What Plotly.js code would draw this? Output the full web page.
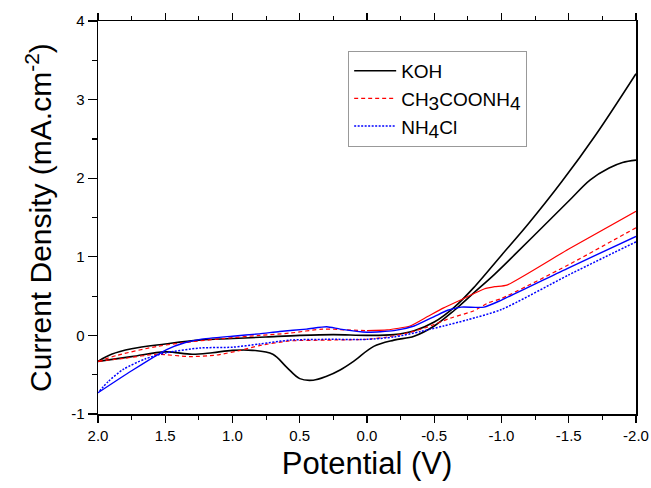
<!DOCTYPE html>
<html>
<head>
<meta charset="utf-8">
<script src="https://cdn.plot.ly/plotly-3.0.1.min.js"></script>
<style>html,body{margin:0;padding:0;background:#fff;}#chart{width:651px;height:488px;}</style>
</head>
<body>
<div id="chart"></div>
<script>
// Series names (subscripts kept near full size, as in the reference)
const seriesNames = [
  'KOH',
  'CH<sub><span style="font-size:19px">3</span></sub>COONH<sub><span style="font-size:19px">4</span></sub>',
  'NH<sub><span style="font-size:19px">4</span></sub>Cl'
];

// KOH: cathodic sweep (2.0 -> -2.0) and return sweep (-2.0 -> 2.0)
const kohFwdX = [2.0, 1.9, 1.75, 1.5, 1.25, 1.0, 0.75, 0.5, 0.25, 0.0, -0.2, -0.35, -0.5, -0.65, -0.8, -1.0, -1.2, -1.45, -1.7, -2.0];
const kohFwdY = [-0.33, -0.24, -0.17, -0.11, -0.06, -0.04, -0.02, 0.0, 0.01, 0.0, 0.01, 0.06, 0.17, 0.36, 0.62, 1.02, 1.42, 1.96, 2.55, 3.33];
const kohRevX = [-2.0, -1.9, -1.8, -1.66, -1.5, -1.3, -1.1, -0.95, -0.8, -0.65, -0.5, -0.35, -0.2, -0.05, 0.1, 0.2, 0.3, 0.4, 0.5, 0.6, 0.7, 0.85, 1.0, 1.15, 1.3, 1.5, 1.75, 2.0];
const kohRevY = [2.23, 2.2, 2.13, 1.98, 1.71, 1.37, 1.03, 0.78, 0.55, 0.32, 0.12, -0.01, -0.06, -0.14, -0.33, -0.44, -0.52, -0.57, -0.55, -0.40, -0.24, -0.19, -0.19, -0.22, -0.24, -0.21, -0.27, -0.33];

// CH3COONH4
const acFwdX = [2.0, 1.85, 1.56, 1.3, 1.07, 0.8, 0.57, 0.33, 0.15, 0.0, -0.15, -0.32, -0.45, -0.57, -0.72, -0.87, -0.95, -1.04, -1.5, -2.0];
const acFwdY = [-0.33, -0.25, -0.14, -0.08, -0.04, 0.0, 0.03, 0.08, 0.07, 0.06, 0.07, 0.12, 0.24, 0.35, 0.47, 0.59, 0.62, 0.64, 1.1, 1.58];
const acRevX = [-2.0, -1.5, -1.0, -0.91, -0.79, -0.62, -0.44, -0.3, -0.15, 0.0, 0.3, 0.57, 0.8, 0.94, 1.12, 1.32, 1.56, 1.8, 2.0];
const acRevY = [1.37, 0.9, 0.47, 0.42, 0.31, 0.22, 0.1, 0.03, -0.02, -0.05, -0.06, -0.07, -0.13, -0.19, -0.25, -0.27, -0.24, -0.29, -0.33];

// NH4Cl
const clFwdX = [2.0, 1.75, 1.49, 1.35, 1.24, 1.0, 0.8, 0.65, 0.45, 0.3, 0.2, 0.0, -0.2, -0.35, -0.5, -0.6, -0.7, -0.87, -1.0, -1.5, -2.0];
const clFwdY = [-0.73, -0.45, -0.18, -0.09, -0.05, -0.01, 0.02, 0.05, 0.08, 0.11, 0.08, 0.04, 0.06, 0.12, 0.24, 0.32, 0.36, 0.36, 0.45, 0.86, 1.26];
const clRevX = [-2.0, -1.5, -1.0, -0.75, -0.57, -0.4, -0.2, 0.0, 0.3, 0.57, 0.8, 1.0, 1.24, 1.49, 1.65, 1.81, 1.92, 2.0];
const clRevY = [1.19, 0.77, 0.33, 0.2, 0.12, 0.05, -0.02, -0.05, -0.05, -0.06, -0.11, -0.15, -0.16, -0.22, -0.3, -0.43, -0.58, -0.73];

// Axis ticks
const xTickVals = [2.0, 1.5, 1.0, 0.5, 0.0, -0.5, -1.0, -1.5, -2.0];
const xTickText = ['2.0', '1.5', '1.0', '0.5', '0.0', '-0.5', '-1.0', '-1.5', '-2.0'];
const yTickVals = [-1, 0, 1, 2, 3, 4];
const yTickText = ['-1', '0', '1', '2', '3', '4'];

const FONT = 'Arial, "Liberation Sans", sans-serif';
const BLACK = '#000000', RED = '#ff0000', BLUE = '#0000ff';

// split CH3COONH4 forward sweep: dashed on the anodic side, dense (solid-looking) on the cathodic side
const splitIdx = acFwdX.indexOf(0.0);

const traces = [
  {x: kohFwdX, y: kohFwdY, name: seriesNames[0], legendgroup: 'koh', mode: 'lines',
   line: {color: BLACK, width: 1.6, shape: 'spline', smoothing: 1}},
  {x: kohRevX, y: kohRevY, name: seriesNames[0], legendgroup: 'koh', showlegend: false, mode: 'lines',
   line: {color: BLACK, width: 1.6, shape: 'spline', smoothing: 1}},
  {x: acRevX, y: acRevY, name: seriesNames[1], legendgroup: 'ac', mode: 'lines',
   line: {color: RED, width: 1.2, dash: '4px,3px', shape: 'spline', smoothing: 0.6}},
  {x: acFwdX.slice(0, splitIdx + 1), y: acFwdY.slice(0, splitIdx + 1), name: seriesNames[1], legendgroup: 'ac', showlegend: false, mode: 'lines',
   line: {color: RED, width: 1.2, dash: '4px,3px', shape: 'spline', smoothing: 0.8}},
  {x: acFwdX.slice(splitIdx), y: acFwdY.slice(splitIdx), name: seriesNames[1], legendgroup: 'ac', showlegend: false, mode: 'lines',
   line: {color: RED, width: 1.2, shape: 'spline', smoothing: 0.5}},
  {x: clRevX, y: clRevY, name: seriesNames[2], legendgroup: 'cl', mode: 'lines',
   line: {color: BLUE, width: 1.5, dash: '2px,1.5px', shape: 'spline', smoothing: 0.7}},
  {x: clFwdX, y: clFwdY, name: seriesNames[2], legendgroup: 'cl', showlegend: false, mode: 'lines',
   line: {color: BLUE, width: 1.4, shape: 'spline', smoothing: 0.6}}
];

const layout = {
  width: 651, height: 488,
  margin: {l: 98, r: 15, t: 21, b: 74},
  paper_bgcolor: '#ffffff', plot_bgcolor: '#ffffff',
  font: {family: FONT, color: '#000', size: 15},
  showlegend: true,
  legend: {
    x: 0.465, y: 0.924, xanchor: 'left', yanchor: 'top',
    bordercolor: '#999999', borderwidth: 1, bgcolor: '#ffffff',
    font: {family: FONT, size: 19, color: '#000'},
    itemwidth: 42, tracegroupgap: 0
  },
  xaxis: {
    range: [2.0, -2.0],
    tickmode: 'array', tickvals: xTickVals, ticktext: xTickText,
    ticks: 'outside', ticklen: 7, tickwidth: 1.3, tickcolor: '#000',
    minor: {dtick: 0.25, tick0: 0, ticks: 'outside', ticklen: 4, tickwidth: 1.2, tickcolor: '#000', showgrid: false},
    showline: true, linecolor: '#000', linewidth: 1.5, mirror: 'allticks',
    showgrid: false, zeroline: false,
    tickfont: {family: FONT, size: 15, color: '#000'},
    title: {text: 'Potential (V)', font: {family: FONT, size: 31, color: '#000'}, standoff: 10}
  },
  yaxis: {
    range: [-1, 4],
    tickmode: 'array', tickvals: yTickVals, ticktext: yTickText,
    ticks: 'outside', ticklen: 9, tickwidth: 1.3, tickcolor: '#000',
    minor: {dtick: 0.5, tick0: 0, ticks: 'outside', ticklen: 5, tickwidth: 1.2, tickcolor: '#000', showgrid: false},
    showline: true, linecolor: '#000', linewidth: 1.5, mirror: true,
    showgrid: false, zeroline: false,
    tickfont: {family: FONT, size: 15, color: '#000'},
    title: {text: 'Current Density (mA.cm<sup>-2</sup>)', font: {family: FONT, size: 30, color: '#000'}, standoff: 10}
  }
};

Plotly.newPlot('chart', traces, layout, {displayModeBar: false, staticPlot: true});
</script>
</body>
</html>
